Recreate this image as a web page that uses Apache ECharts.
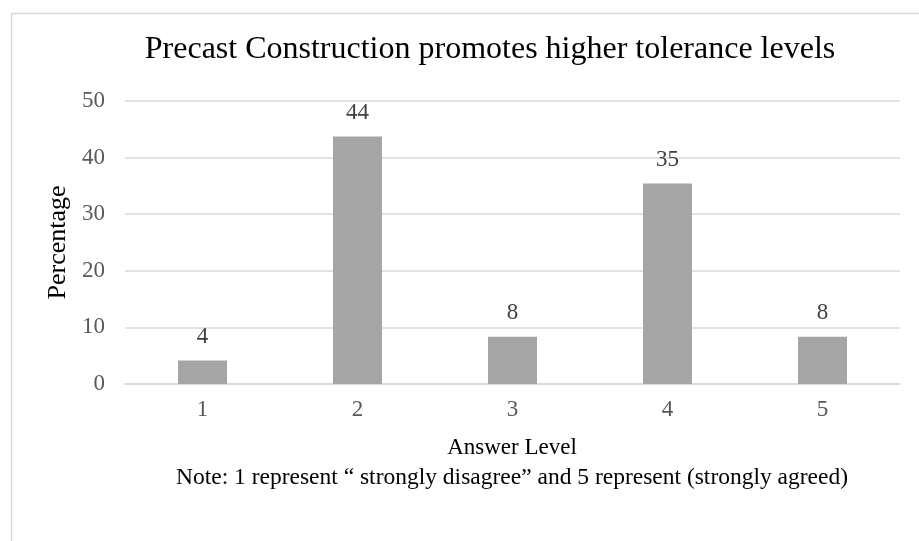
<!DOCTYPE html>
<html><head><meta charset="utf-8">
<script src="https://cdn.jsdelivr.net/npm/echarts@6/dist/echarts.min.js"></script>
<style>html,body{margin:0;padding:0;background:#fff}#c{width:919px;height:541px}</style>
</head><body><div id="c"></div>
<script>
const categories = ['1','2','3','4','5'];
const values = [4.17, 43.75, 8.33, 35.42, 8.33];
const yTicks = [0, 10, 20, 30, 40, 50];
const titleText = 'Precast Construction promotes higher tolerance levels';
const xName = 'Answer Level';
const noteText = 'Note: 1 represent \u201c strongly disagree\u201d and 5 represent (strongly agreed)';
const yName = 'Percentage';

const chart = echarts.init(document.getElementById('c'), null, {renderer: 'canvas'});
const serif = '"Liberation Serif", "Times New Roman", serif';
chart.setOption({
  animation: false,
  backgroundColor: '#fff',
  graphic: [
    {type: 'rect', left: 9, top: 11, shape: {width: 1000, height: 600}, style: {fill: 'none', stroke: '#d9d9d9', lineWidth: 1.5}},
    {type: 'text', style: {x: 490, y: 50, text: titleText, font: '32px ' + serif, fill: '#000', align: 'center', verticalAlign: 'middle'}},
    {type: 'text', style: {x: 512, y: 448, text: xName, font: '23px ' + serif, fill: '#000', align: 'center', verticalAlign: 'middle'}},
    {type: 'text', style: {x: 512, y: 478, text: noteText, font: '23.5px ' + serif, fill: '#000', align: 'center', verticalAlign: 'middle'}}
  ],
  grid: {left: 125, right: 19, top: 101, bottom: 157},
  xAxis: {type: 'category', data: categories,
    axisLine: {lineStyle: {color: '#d9d9d9', width: 1.5}}, axisTick: {show: false},
    axisLabel: {fontFamily: serif, fontSize: 23, color: '#595959', margin: 14}},
  yAxis: {type: 'value', min: yTicks[0], max: yTicks[yTicks.length-1], interval: 10,
    name: yName, nameLocation: 'middle', nameGap: 51,
    nameTextStyle: {fontFamily: serif, fontSize: 26, color: '#000'},
    axisLine: {show: false}, axisTick: {show: false},
    splitLine: {lineStyle: {color: '#d9d9d9', width: 1.5}},
    axisLabel: {fontFamily: serif, fontSize: 23, color: '#595959', margin: 20}},
  series: [{type: 'bar', data: values, barWidth: '31.6%',
    itemStyle: {color: '#a5a5a5'},
    label: {show: true, position: 'top', distance: 12, formatter: p => Math.round(p.value),
      fontFamily: serif, fontSize: 23, color: '#404040'}}]
});
</script></body></html>
